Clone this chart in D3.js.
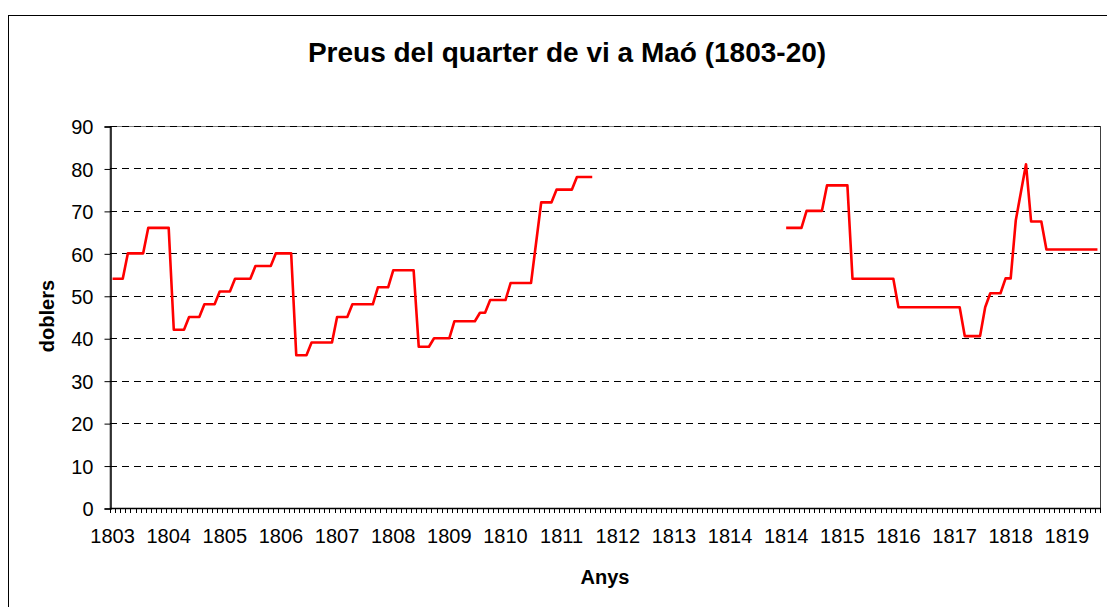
<!DOCTYPE html>
<html>
<head>
<meta charset="utf-8">
<script src="https://cdn.jsdelivr.net/npm/d3@7/dist/d3.min.js"></script>
<style>
  html, body { margin: 0; padding: 0; background: #fff; }
  svg { display: block; }
  text { font-family: Arial, "Liberation Sans", sans-serif; fill: #000; }
</style>
</head>
<body>
<svg id="chart" width="1107" height="607"></svg>
<script>
// ---- data ----
const chartTitle = "Preus del quarter de vi a Maó (1803-20)";
const yTitle = "doblers";
const xTitle = "Anys";

// price per observation (category), null = no data
const prices = [
  54, 54, 54,
  60, 60, 60, 60,
  66, 66, 66, 66, 66,
  42, 42, 42,
  45, 45, 45,
  48, 48, 48,
  51, 51, 51,
  54, 54, 54, 54,
  57, 57, 57, 57,
  60, 60, 60, 60,
  36, 36, 36,
  39, 39, 39, 39, 39,
  45, 45, 45,
  48, 48, 48, 48, 48,
  52, 52, 52,
  56, 56, 56, 56, 56,
  38, 38, 38,
  40, 40, 40, 40,
  44, 44, 44, 44, 44,
  46, 46,
  49, 49, 49, 49,
  53, 53, 53, 53, 53,
  62.5,
  72, 72, 72,
  75, 75, 75, 75,
  78, 78, 78, 78,
  null, null, null, null, null, null, null, null, null, null,
  null, null, null, null, null, null, null, null, null, null,
  null, null, null, null, null, null, null, null, null, null,
  null, null, null, null, null, null, null,
  66, 66, 66, 66,
  70, 70, 70, 70,
  76, 76, 76, 76, 76,
  54, 54, 54, 54, 54, 54, 54, 54, 54,
  47.3, 47.3, 47.3, 47.3, 47.3, 47.3, 47.3, 47.3, 47.3, 47.3, 47.3, 47.3, 47.3,
  40.5, 40.5, 40.5, 40.5,
  47.3,
  50.6, 50.6, 50.6,
  54.1, 54.1,
  67.8,
  74.4,
  81,
  67.5, 67.5, 67.5,
  60.9, 60.9, 60.9, 60.9, 60.9, 60.9, 60.9, 60.9, 60.9, 60.9, 60.9
];

// category labels shown on the x axis (every 11th category)
const tickIndices = [0, 11, 22, 33, 44, 55, 66, 77, 88, 99, 110, 121, 132, 143, 154, 165, 176, 187];
const tickLabels = ["1803", "1804", "1805", "1806", "1807", "1808", "1809", "1810", "1811",
                    "1812", "1813", "1814", "1814", "1815", "1816", "1817", "1818", "1819"];
const yTickValues = [0, 10, 20, 30, 40, 50, 60, 70, 80, 90];

// ---- layout ----
const plot = { left: 110, right: 1100, top: 126, bottom: 508 };

const svg = d3.select("#chart");

// outer chart frame
svg.append("rect")
  .attr("x", 8.5).attr("y", 15.5)
  .attr("width", 1120).attr("height", 620)
  .attr("fill", "#fff").attr("stroke", "#000").attr("stroke-width", 1);

const x = d3.scaleBand()
  .domain(prices.map((d, i) => i))
  .range([plot.left, plot.right])
  .paddingInner(0).paddingOuter(0);

const y = d3.scaleLinear()
  .domain([0, 90])
  .range([plot.bottom, plot.top]);

// plot area border
svg.append("rect")
  .attr("x", plot.left).attr("y", plot.top + 0.5)
  .attr("width", plot.right - plot.left + 0.5)
  .attr("height", plot.bottom - plot.top)
  .attr("fill", "none").attr("stroke", "#808080").attr("stroke-width", 1);

// gridlines
svg.append("g")
  .selectAll("line")
  .data(yTickValues.filter(v => v > 0))
  .join("line")
  .attr("x1", plot.left).attr("x2", plot.right)
  .attr("y1", d => Math.round(y(d)) + 0.5)
  .attr("y2", d => Math.round(y(d)) + 0.5)
  .attr("stroke", "#000")
  .attr("stroke-width", 1)
  .attr("stroke-dasharray", "7,5");

// right border darker
svg.append("line")
  .attr("x1", plot.right + 0.5).attr("x2", plot.right + 0.5)
  .attr("y1", plot.top).attr("y2", plot.bottom)
  .attr("stroke", "#404040").attr("stroke-width", 1);

// y axis
const yAxis = d3.axisLeft(y)
  .tickValues(yTickValues)
  .tickSize(6)
  .tickPadding(11)
  .tickFormat(d3.format("d"));

const gy = svg.append("g")
  .attr("transform", `translate(${plot.left + 0.5},0.5)`)
  .call(yAxis);
gy.select(".domain").attr("stroke", "#000").attr("stroke-width", 1.5);
gy.selectAll(".tick line").attr("stroke", "#000");
gy.selectAll(".tick text")
  .attr("font-size", 20)
  .attr("font-family", "Arial, 'Liberation Sans', sans-serif")
  .attr("dy", "0.36em");

// x axis: tick marks at every category boundary
const boundaries = prices.map((d, i) => x(i)).concat([plot.right]);
svg.append("g")
  .selectAll("line")
  .data(boundaries)
  .join("line")
  .attr("x1", d => Math.round(d) + 0.5).attr("x2", d => Math.round(d) + 0.5)
  .attr("y1", plot.bottom).attr("y2", plot.bottom + 5)
  .attr("stroke", "#000").attr("stroke-width", 1);

svg.append("line")
  .attr("x1", plot.left).attr("x2", plot.right + 1)
  .attr("y1", plot.bottom + 0.5).attr("y2", plot.bottom + 0.5)
  .attr("stroke", "#000").attr("stroke-width", 1.5);

const xAxis = d3.axisBottom(x)
  .tickValues(tickIndices)
  .tickSize(0)
  .tickPadding(0)
  .tickFormat((d, i) => tickLabels[i]);

const gx = svg.append("g")
  .attr("transform", `translate(0,${plot.bottom})`)
  .call(xAxis);
gx.select(".domain").remove();
gx.selectAll(".tick text")
  .attr("font-size", 20)
  .attr("font-family", "Arial, 'Liberation Sans', sans-serif")
  .attr("y", 35)
  .attr("dy", 0);

// data line
const line = d3.line()
  .defined(d => d != null)
  .x((d, i) => x(i) + x.bandwidth() / 2)
  .y(d => y(d));

svg.append("path")
  .datum(prices)
  .attr("d", line)
  .attr("fill", "none")
  .attr("stroke", "#ff0000")
  .attr("stroke-width", 2.6)
  .attr("stroke-linejoin", "round");

// titles
svg.append("text")
  .attr("x", 567).attr("y", 62)
  .attr("text-anchor", "middle")
  .attr("font-size", 28)
  .attr("font-weight", "bold")
  .text(chartTitle);

svg.append("text")
  .attr("transform", "translate(54,316) rotate(-90)")
  .attr("text-anchor", "middle")
  .attr("font-size", 20)
  .attr("font-weight", "bold")
  .text(yTitle);

svg.append("text")
  .attr("x", 605).attr("y", 584)
  .attr("text-anchor", "middle")
  .attr("font-size", 20)
  .attr("font-weight", "bold")
  .text(xTitle);
</script>
</body>
</html>
